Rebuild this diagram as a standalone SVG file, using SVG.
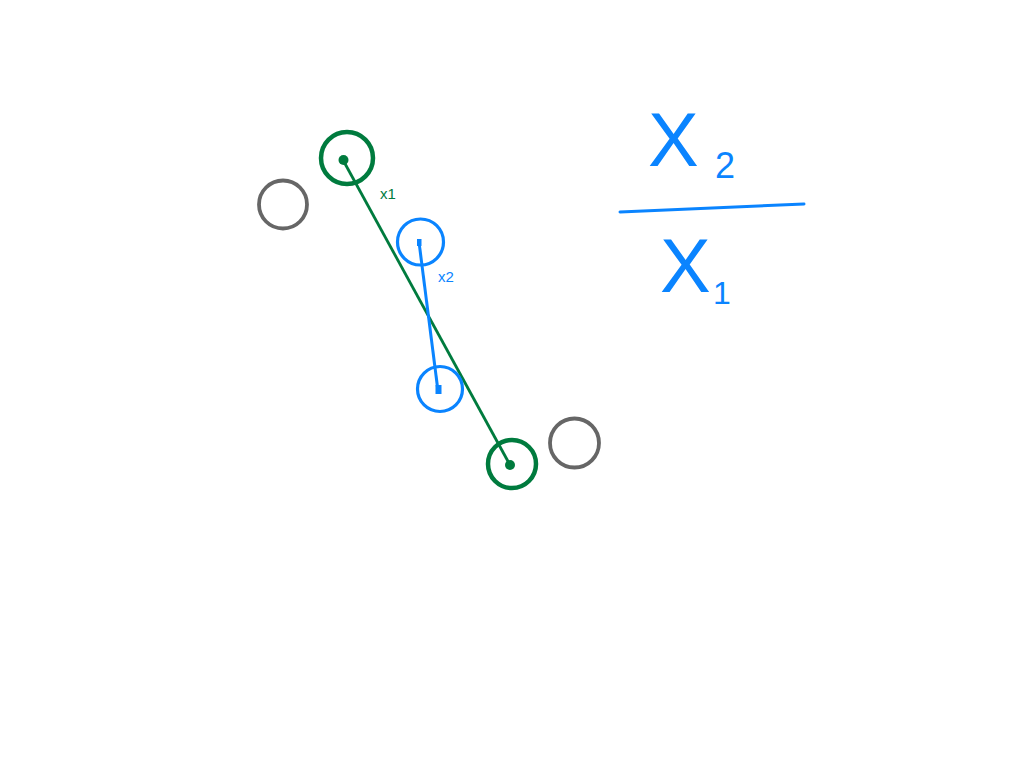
<svg xmlns="http://www.w3.org/2000/svg" width="1024" height="768" viewBox="0 0 1024 768">
<style>
.ring{fill:none}
.g{stroke:#007b3e}
.b{stroke:#0a84ff}
.gray{stroke:#666666}
.lbl{font-family:"Liberation Sans",Arial,sans-serif;font-size:15px}
.hand{font-family:"Liberation Sans",Arial,sans-serif;fill:#0a84ff}
</style>
<rect width="1024" height="768" fill="#ffffff"/>
<g id="connectors">
<line x1="343" y1="160" x2="510" y2="465" class="g" stroke-width="2.8"/>
<line x1="419" y1="242" x2="438" y2="391" class="b" stroke-width="3"/>
<line x1="620" y1="212" x2="804" y2="204" class="b" stroke-width="3" stroke-linecap="round"/>
</g>
<g id="green-top">
<circle cx="347" cy="158" r="26" class="ring g" stroke-width="4.5"/>
<circle cx="343.5" cy="160" r="5" fill="#007b3e"/>
</g>
<g id="green-bottom">
<circle cx="512" cy="464" r="24" class="ring g" stroke-width="4.5"/>
<circle cx="510" cy="465" r="5" fill="#007b3e"/>
</g>
<g id="gray-left">
<circle cx="283" cy="204.5" r="24" class="ring gray" stroke-width="3.8"/>
</g>
<g id="gray-right">
<circle cx="574.5" cy="443" r="24.5" class="ring gray" stroke-width="3.8"/>
</g>
<g id="blue-top">
<circle cx="420.5" cy="242" r="23" class="ring b" stroke-width="3.2"/>
<rect x="417" y="239" width="4.5" height="7" fill="#0a84ff"/>
</g>
<g id="blue-bottom">
<circle cx="440" cy="389" r="22.5" class="ring b" stroke-width="3.2"/>
<rect x="435.5" y="385" width="6" height="9" fill="#0a84ff"/>
</g>
<g id="labels">
<text x="380" y="199" class="lbl" fill="#007b3e">x1</text>
<text x="438" y="282" class="lbl" fill="#0a84ff">x2</text>
</g>
<g id="fraction">
<text x="648" y="166" class="hand" font-size="76">X</text>
<text x="715" y="178" class="hand" font-size="36">2</text>
<text x="660" y="292" class="hand" font-size="76">X</text>
<text x="713" y="304" class="hand" font-size="32">1</text>
</g>
</svg>
